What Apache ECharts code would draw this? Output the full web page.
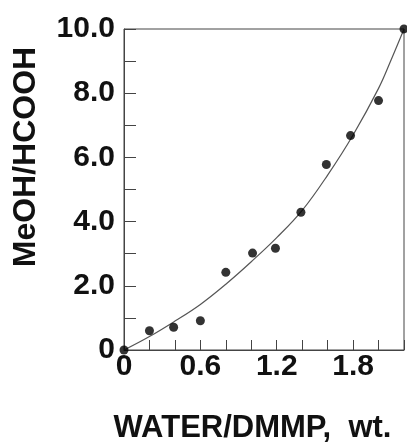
<!DOCTYPE html>
<html>
<head>
<meta charset="utf-8">
<script src="https://cdn.jsdelivr.net/npm/echarts@6/dist/echarts.min.js"></script>
<style>
html,body{margin:0;padding:0;background:#fff;}
#chart{width:407px;height:442px;}
</style>
</head>
<body>
<div id="chart"></div>
<script>
// Measured data points
const pointX = [0, 0.2, 0.39, 0.6, 0.8, 1.01, 1.19, 1.39, 1.59, 1.78, 2.0, 2.2];
const pointY = [0, 0.60, 0.71, 0.91, 2.42, 3.02, 3.17, 4.29, 5.78, 6.68, 7.77, 10.0];
// Fitted curve
const curveX = [0, 0.2, 0.4, 0.6, 0.8, 1.0, 1.2, 1.4, 1.6, 1.8, 2.0, 2.1, 2.2];
const curveY = [0, 0.42, 0.9, 1.42, 2.05, 2.75, 3.5, 4.35, 5.45, 6.7, 8.15, 9.05, 10.0];
// Tick labels
const xTickValues = [0, 0.6, 1.2, 1.8];
const xTickLabels = ['0', '0.6', '1.2', '1.8'];
const yTickValues = [0, 2, 4, 6, 8, 10];
const yTickLabels = ['0', '2.0', '4.0', '6.0', '8.0', '10.0'];
const xName = 'WATER/DMMP,  wt.';
const yName = 'MeOH/HCOOH';

function findLabel(vals, labels, v) {
  for (let i = 0; i < vals.length; i++) {
    if (Math.abs(vals[i] - v) < 1e-6) return labels[i];
  }
  return '';
}

const chart = echarts.init(document.getElementById('chart'), null, {renderer: 'canvas'});
const font = "'Liberation Sans', Arial, Helvetica, sans-serif";
const axisColor = '#444';

chart.setOption({
  animation: false,
  backgroundColor: '#fff',
  grid: {
    left: 124, right: 3, top: 29, bottom: 92,
    show: true, borderColor: axisColor, borderWidth: 1,
    outerBoundsMode: 'none', containLabel: false
  },
  xAxis: {
    type: 'value', min: 0, max: 2.2, interval: 0.2,
    name: xName, nameLocation: 'middle', nameGap: 63,
    nameTextStyle: {fontFamily: font, fontSize: 31, fontWeight: 'bold', color: '#111', padding: [0, 23, 0, 0]},
    axisLine: {show: true, lineStyle: {color: axisColor, width: 1}},
    axisTick: {show: true, inside: true, length: 10, lineStyle: {color: axisColor, width: 1}},
    splitLine: {show: false},
    axisLabel: {
      margin: 2, fontFamily: font, fontSize: 30, fontWeight: 'bold', color: '#111',
      showMinLabel: true, showMaxLabel: true,
      formatter: v => findLabel(xTickValues, xTickLabels, v)
    }
  },
  yAxis: {
    type: 'value', min: 0, max: 10, interval: 1,
    name: yName, nameLocation: 'middle', nameGap: 82, nameRotate: 90,
    nameTextStyle: {fontFamily: font, fontSize: 32, fontWeight: 'bold', color: '#111', padding: [0, 0, 0, 65]},
    axisLine: {show: true, lineStyle: {color: axisColor, width: 1}},
    axisTick: {show: true, inside: true, length: 12, lineStyle: {color: axisColor, width: 1}},
    splitLine: {show: false},
    axisLabel: {
      margin: 9, fontFamily: font, fontSize: 30, fontWeight: 'bold', color: '#111',
      showMinLabel: true, showMaxLabel: true,
      formatter: v => findLabel(yTickValues, yTickLabels, v)
    }
  },
  series: [
    {
      type: 'line',
      data: curveX.map((x, i) => [x, curveY[i]]),
      smooth: 0.4,
      showSymbol: false,
      symbol: 'none',
      lineStyle: {color: '#555', width: 1.2},
      clip: false,
      z: 2
    },
    {
      type: 'scatter',
      data: pointX.map((x, i) => [x, pointY[i]]),
      symbol: 'circle',
      symbolSize: 9,
      itemStyle: {color: '#000'},
      clip: false,
      z: 3
    }
  ]
});
</script>
</body>
</html>
